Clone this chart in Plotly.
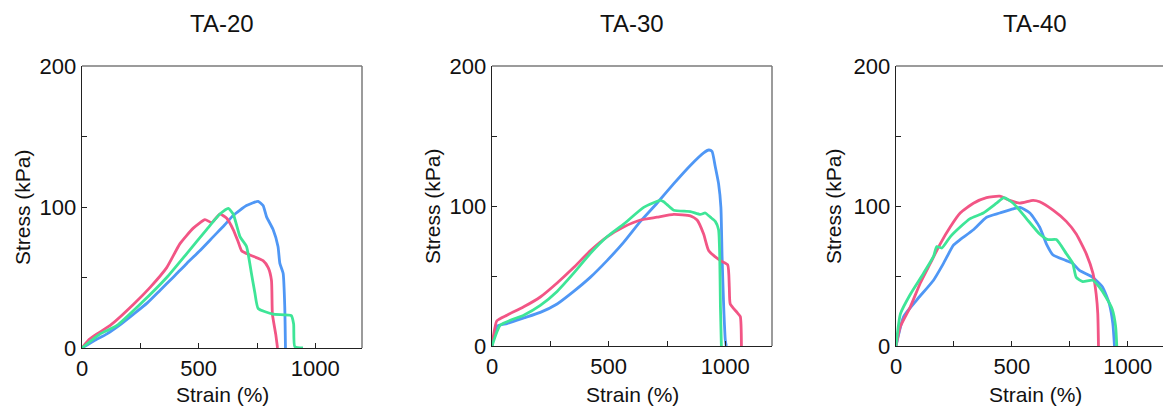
import plotly.graph_objects as go

# ---------------- data (strain %, stress kPa) ----------------
panel_titles = ["TA-20", "TA-30", "TA-40"]
x_tick_vals = [0, 250, 500, 750, 1000]
x_tick_text = ["0", "", "500", "", "1000"]
y_tick_vals = [0, 50, 100, 150, 200]
y_tick_text = ["0", "", "100", "", "200"]
x_title = "Strain (%)"
y_title = "Stress (kPa)"

# TA-20
ta20_blue_strain = [0, 50, 107, 160, 221, 280, 335, 390, 449, 505, 563, 610, 648, 705, 755, 776, 791, 819, 840, 848, 862, 869, 872]
ta20_blue_stress = [0, 5, 10, 16, 24, 32, 41, 50, 60, 69, 79, 87, 94, 101, 104, 101, 93, 84, 72, 60, 53, 29, 0]
ta20_red_strain = [0, 30, 64, 121, 221, 292, 363, 420, 477, 527, 556, 591, 620, 648, 670, 684, 719, 776, 798, 812, 816, 830, 838]
ta20_red_stress = [0, 6, 10, 16, 31, 43, 57, 74, 85, 91, 89, 95, 92, 84, 75, 69, 66, 62, 57, 48, 24, 10, 0]
ta20_green_strain = [0, 78, 150, 249, 363, 449, 534, 591, 627, 648, 677, 705, 726, 741, 755, 819, 897, 907, 912, 947]
ta20_green_stress = [0, 10, 16, 31, 50, 67, 84, 95, 99, 95, 79, 72, 53, 39, 28, 24, 23, 17, 1, 0]

# TA-30
ta30_blue_strain = [0, 21, 64, 136, 207, 279, 350, 421, 493, 564, 636, 707, 779, 850, 907, 929, 943, 957, 971, 981, 986, 993, 1000, 1004]
ta30_blue_stress = [0, 14, 16, 20, 24, 30, 39, 49, 61, 74, 89, 102, 116, 129, 138, 140, 139, 128, 116, 99, 64, 28, 4, 0]
ta30_red_strain = [0, 21, 64, 136, 207, 279, 350, 421, 493, 564, 636, 707, 779, 850, 879, 907, 929, 979, 1010, 1017, 1021, 1050, 1064, 1069]
ta30_red_stress = [0, 18, 22, 28, 35, 45, 56, 68, 78, 85, 90, 92, 94, 93, 90, 80, 68, 61, 58, 42, 30, 24, 21, 0]
ta30_green_strain = [0, 36, 136, 207, 279, 350, 421, 493, 564, 650, 721, 736, 750, 779, 850, 893, 914, 936, 957, 971, 976, 979, 983]
ta30_green_stress = [0, 15, 22, 29, 39, 52, 66, 78, 87, 99, 104, 103, 101, 97, 96, 94, 95, 92, 89, 83, 64, 28, 0]

# TA-40
ta40_blue_strain = [0, 33, 90, 162, 205, 248, 277, 334, 391, 448, 506, 535, 578, 620, 649, 678, 735, 763, 792, 849, 892, 921, 936, 943]
ta40_blue_stress = [0, 21, 33, 47, 59, 72, 76, 83, 92, 95, 98, 99, 95, 85, 73, 65, 61, 59, 54, 49, 42, 30, 16, 0]
ta40_red_strain = [0, 19, 62, 105, 148, 191, 234, 277, 334, 391, 448, 491, 534, 592, 620, 678, 735, 778, 821, 850, 864, 871, 874]
ta40_red_stress = [0, 14, 28, 45, 59, 73, 85, 95, 102, 106, 107, 104, 102, 104, 103, 97, 89, 80, 66, 52, 37, 23, 0]
ta40_green_strain = [0, 19, 62, 119, 162, 176, 198, 234, 277, 320, 377, 434, 466, 506, 563, 620, 656, 692, 735, 763, 778, 806, 849, 878, 906, 934, 948, 953]
ta40_green_stress = [0, 23, 37, 52, 64, 71, 70, 78, 85, 91, 95, 102, 106, 102, 91, 80, 76, 76, 66, 59, 49, 46, 47, 42, 35, 26, 14, 0]

panels = [
    [(ta20_blue_strain, ta20_blue_stress), (ta20_red_strain, ta20_red_stress), (ta20_green_strain, ta20_green_stress)],
    [(ta30_blue_strain, ta30_blue_stress), (ta30_red_strain, ta30_red_stress), (ta30_green_strain, ta30_green_stress)],
    [(ta40_blue_strain, ta40_blue_stress), (ta40_red_strain, ta40_red_stress), (ta40_green_strain, ta40_green_stress)],
]
colors = ["#4f97f5", "#f25585", "#3ee597"]

# ---------------- layout (pixel geometry) ----------------
W, H = 1163, 412
FONT = "Liberation Sans, Arial, sans-serif"
TXT = "#111111"
# plot area boxes: left, right(nominal, 1200 strain), top, bottom
boxes = [(82, 362, 66, 348), (492, 772, 66, 346), (896, 1174, 66, 346)]
ytitle_x = [22, 432, 833]
xtitle_y = 394
title_y = 24

def fx(px):
    return px / W

def fy(py):
    return 1 - py / H

fig = go.Figure()
shapes = []
annotations = []

for i, (series, box) in enumerate(zip(panels, boxes)):
    l, r, t, b = box
    xa = "x" if i == 0 else f"x{i+1}"
    ya = "y" if i == 0 else f"y{i+1}"
    for (xs, ys), c in zip(series, colors):
        fig.add_trace(go.Scatter(x=xs, y=ys, mode="lines", xaxis=xa, yaxis=ya,
                                 line=dict(color=c, width=2.8, shape="spline", smoothing=0.5),
                                 showlegend=False, hoverinfo="skip"))
    px_per_unit = (r - l) / 1200
    r_vis = min(r, W)
    xmax = (r_vis - l) / px_per_unit
    axkey = "xaxis" if i == 0 else f"xaxis{i+1}"
    aykey = "yaxis" if i == 0 else f"yaxis{i+1}"
    fig.update_layout({
        axkey: dict(domain=[fx(l), fx(r_vis)], range=[0, xmax], anchor=ya,
                    tickvals=x_tick_vals, ticktext=x_tick_text, ticks="inside",
                    ticklen=5, tickwidth=1, tickcolor="#222",
                    showline=True, linecolor="#222", linewidth=1.3,
                    showgrid=False, zeroline=False, automargin=False,
                    tickfont=dict(family=FONT, size=22, color=TXT)),
        aykey: dict(domain=[fy(b), fy(t)], range=[0, 200], anchor=xa,
                    tickvals=y_tick_vals, ticktext=y_tick_text, ticks="inside",
                    ticklen=5, tickwidth=1, tickcolor="#222",
                    showline=True, linecolor="#222", linewidth=1.3,
                    showgrid=False, zeroline=False, automargin=False,
                    tickfont=dict(family=FONT, size=22, color=TXT)),
    })
    # grey top and right frame lines
    shapes.append(dict(type="line", xref="paper", yref="paper",
                       x0=fx(l), x1=fx(r_vis), y0=fy(t), y1=fy(t),
                       line=dict(color="#7a7a7a", width=1.5)))
    if r <= W:
        shapes.append(dict(type="line", xref="paper", yref="paper",
                           x0=fx(r), x1=fx(r), y0=fy(t), y1=fy(b),
                           line=dict(color="#7a7a7a", width=1.5)))
    cx = (l + r) / 2
    annotations.append(dict(text=panel_titles[i], xref="paper", yref="paper",
                            x=fx(cx), y=fy(title_y), showarrow=False,
                            xanchor="center", yanchor="middle",
                            font=dict(family=FONT, size=24, color=TXT)))
    annotations.append(dict(text=x_title, xref="paper", yref="paper",
                            x=fx(cx), y=fy(xtitle_y), showarrow=False,
                            xanchor="center", yanchor="middle",
                            font=dict(family=FONT, size=21, color=TXT)))
    annotations.append(dict(text=y_title, xref="paper", yref="paper",
                            x=fx(ytitle_x[i]), y=fy((t + b) / 2), showarrow=False,
                            xanchor="center", yanchor="middle", textangle=-90,
                            font=dict(family=FONT, size=21, color=TXT)))

fig.update_layout(width=W, height=H, margin=dict(l=0, r=0, t=0, b=0, autoexpand=False),
                  paper_bgcolor="white", plot_bgcolor="white",
                  shapes=shapes, annotations=annotations, hovermode=False)

fig.write_html("out.html", config={"displayModeBar": False, "staticPlot": True},
               post_script="document.body.style.margin='0px';document.body.style.overflow='hidden';")
